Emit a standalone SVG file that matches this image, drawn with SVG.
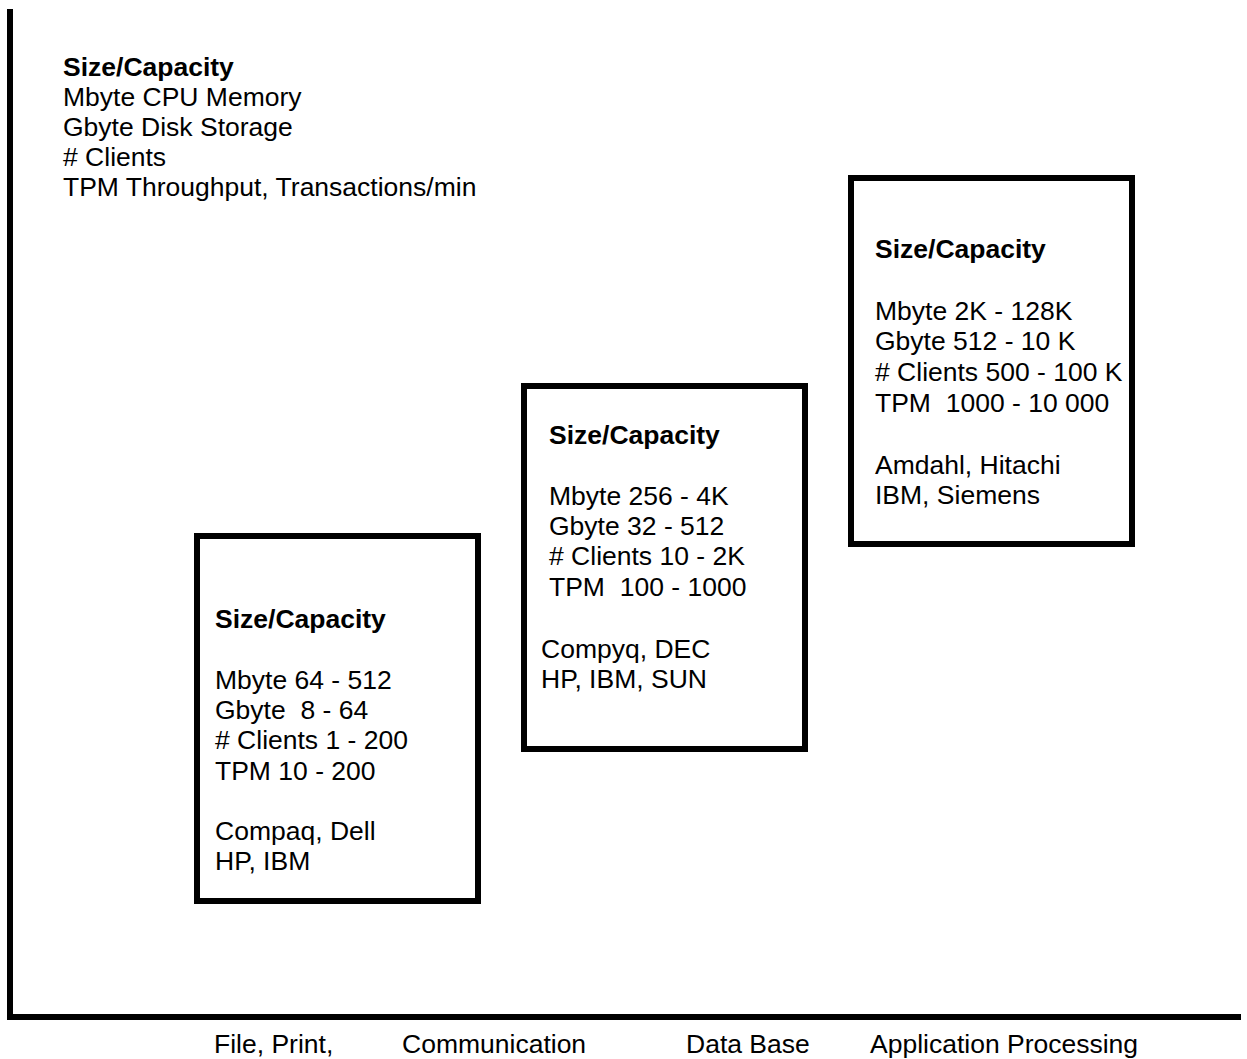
<svg xmlns="http://www.w3.org/2000/svg" width="1247" height="1059" viewBox="0 0 1247 1059">
<style>
text{font-family:"Liberation Sans",Arial,sans-serif;font-size:26.5px;fill:#000;white-space:pre}
.b{font-weight:bold}
.box{fill:#fff;stroke:#000;stroke-width:6}
.axis{stroke:#000;stroke-width:6;fill:none}
</style>
<rect width="1247" height="1059" fill="#fff"/>
<g id="axes">
<line class="axis" x1="10" y1="9" x2="10" y2="1020"/>
<line class="axis" x1="7" y1="1017" x2="1241" y2="1017"/>
</g>
<g id="legend">
<text class="b" x="63" y="76">Size/Capacity</text>
<text x="63" y="106">Mbyte CPU Memory</text>
<text x="63" y="136">Gbyte Disk Storage</text>
<text x="63" y="166"># Clients</text>
<text x="63" y="196">TPM Throughput, Transactions/min</text>
</g>
<g id="box1">
<rect class="box" x="197" y="536" width="281" height="365"/>
<text class="b" x="215" y="628">Size/Capacity</text>
<text x="215" y="689">Mbyte 64 - 512</text>
<text x="215" y="719" xml:space="preserve">Gbyte  8 - 64</text>
<text x="215" y="749"># Clients 1 - 200</text>
<text x="215" y="780">TPM 10 - 200</text>
<text x="215" y="840">Compaq, Dell</text>
<text x="215" y="870">HP, IBM</text>
</g>
<g id="box2">
<rect class="box" x="524" y="386" width="281" height="363"/>
<text class="b" x="549" y="444">Size/Capacity</text>
<text x="549" y="505">Mbyte 256 - 4K</text>
<text x="549" y="535">Gbyte 32 - 512</text>
<text x="549" y="565"># Clients 10 - 2K</text>
<text x="549" y="596" xml:space="preserve">TPM  100 - 1000</text>
<text x="541" y="658">Compyq, DEC</text>
<text x="541" y="688">HP, IBM, SUN</text>
</g>
<g id="box3">
<rect class="box" x="851" y="178" width="281" height="366"/>
<text class="b" x="875" y="258">Size/Capacity</text>
<text x="875" y="320">Mbyte 2K - 128K</text>
<text x="875" y="350">Gbyte 512 - 10 K</text>
<text x="875" y="381"># Clients 500 - 100 K</text>
<text x="875" y="412" xml:space="preserve">TPM  1000 - 10 000</text>
<text x="875" y="474">Amdahl, Hitachi</text>
<text x="875" y="504">IBM, Siemens</text>
</g>
<g id="labels">
<text x="214" y="1053">File, Print,</text>
<text x="402" y="1053">Communication</text>
<text x="686" y="1053">Data Base</text>
<text x="870" y="1053">Application Processing</text>
</g>
</svg>
